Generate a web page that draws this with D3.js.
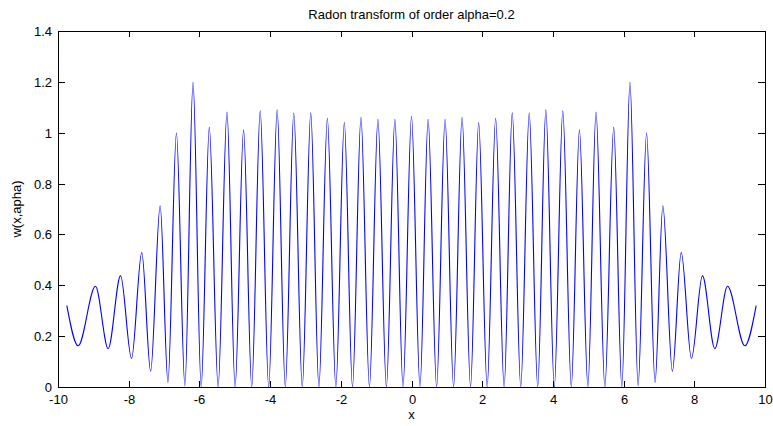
<!DOCTYPE html>
<html>
<head>
<meta charset="utf-8">
<script src="https://cdn.jsdelivr.net/npm/d3@7"></script>
<style>
    body { margin: 0; background: #fff; }
    svg text { font-family: "Liberation Sans", Arial, sans-serif; font-size: 13px; fill: #000; }
    .frame line, .frame rect { stroke: #000; stroke-width: 1; shape-rendering: crispEdges; }
</style>
</head>
<body>
<svg id="chart" width="773" height="426"></svg>
<script>
// extrema of the curve (left to right)
const xs = [-9.75, -9.43, -8.94, -8.58, -8.23, -7.92, -7.63, -7.38, -7.11, -6.89,
            -6.65, -6.41, -6.18, -5.95, -5.72, -5.47, -5.22, -4.99, -4.75, -4.52,
            -4.28, -4.04, -3.80, -3.57, -3.33, -3.09, -2.85, -2.62, -2.38, -2.14,
            -1.90, -1.67, -1.43, -1.19, -0.95, -0.71, -0.47, -0.24, 0.00,
             0.24,  0.47,  0.71,  0.95,  1.19,  1.43,  1.67,  1.90,  2.14,  2.38,
             2.62,  2.85,  3.09,  3.33,  3.57,  3.80,  4.04,  4.28,  4.52,  4.75,
             4.99,  5.22,  5.47,  5.72,  5.95,  6.18,  6.41,  6.65,  6.89,  7.11,
             7.38,  7.63,  7.92,  8.23,  8.58,  8.94,  9.43,  9.75];
const ys = [0.320, 0.162, 0.396, 0.151, 0.438, 0.112, 0.529, 0.062, 0.713, 0.018,
            0.999, 0.005, 1.198, 0.000, 1.021, 0.000, 1.081, 0.000, 1.011, 0.000,
            1.086, 0.000, 1.090, 0.000, 1.077, 0.000, 1.078, 0.000, 1.057, 0.000,
            1.040, 0.000, 1.061, 0.000, 1.053, 0.000, 1.053, 0.000, 1.065,
            0.000, 1.053, 0.000, 1.053, 0.000, 1.061, 0.000, 1.040, 0.000, 1.057,
            0.000, 1.078, 0.000, 1.077, 0.000, 1.090, 0.000, 1.086, 0.000, 1.011,
            0.000, 1.081, 0.000, 1.021, 0.000, 1.198, 0.005, 0.999, 0.018, 0.713,
            0.062, 0.529, 0.112, 0.438, 0.151, 0.396, 0.162, 0.320];

const xTicks = [-10, -8, -6, -4, -2, 0, 2, 4, 6, 8, 10];
const yTicks = [0, 0.2, 0.4, 0.6, 0.8, 1, 1.2, 1.4];

const titleText = "Radon transform of order alpha=0.2";
const xLabel = "x";
const yLabel = "w(x,apha)";

const L = 58, R = 765, T = 31, B = 387;

const svg = d3.select('#chart');

const x = d3.scaleLinear().domain([-10, 10]).range([L, R]);
const y = d3.scaleLinear().domain([0, 1.4]).range([B, T]);

const pts = xs.map((v, i) => [v, ys[i]]);

// curve
const line = d3.line()
                .x(d => x(d[0]))
                .y(d => y(d[1]))
                .curve(d3.curveMonotoneX);

svg.append('path')
    .datum(pts)
    .attr('d', line)
    .attr('fill', 'none')
    .attr('stroke', '#0000ff')
    .attr('stroke-width', 1.1);

// frame with inward ticks on all four sides
const frame = svg.append('g').attr('class', 'frame');
frame.append('rect')
    .attr('x', L + 0.5).attr('y', T + 0.5)
    .attr('width', R - L).attr('height', B - T)
    .attr('fill', 'none');

xTicks.forEach(function(t) {
    let px = Math.round(x(t)) + 0.5;
    frame.append('line').attr('x1', px).attr('x2', px).attr('y1', B).attr('y2', B - 6);
    frame.append('line').attr('x1', px).attr('x2', px).attr('y1', T).attr('y2', T + 6);
    svg.append('text')
        .attr('x', px).attr('y', 404)
        .attr('text-anchor', 'middle')
        .text(t);
});

yTicks.forEach(function(t) {
    let py = Math.round(y(t)) + 0.5;
    frame.append('line').attr('x1', L).attr('x2', L + 7).attr('y1', py).attr('y2', py);
    frame.append('line').attr('x1', R).attr('x2', R - 7).attr('y1', py).attr('y2', py);
    svg.append('text')
        .attr('x', 52).attr('y', py + 4.5)
        .attr('text-anchor', 'end')
        .text(t);
});

// labels
svg.append('text')
    .attr('x', (L + R) / 2).attr('y', 19)
    .attr('text-anchor', 'middle')
    .text(titleText);

svg.append('text')
    .attr('x', (L + R) / 2).attr('y', 419)
    .attr('text-anchor', 'middle')
    .text(xLabel);

svg.append('text')
    .attr('transform', 'translate(21,' + ((T + B) / 2) + ') rotate(-90)')
    .attr('text-anchor', 'middle')
    .text(yLabel);
</script>
</body>
</html>
